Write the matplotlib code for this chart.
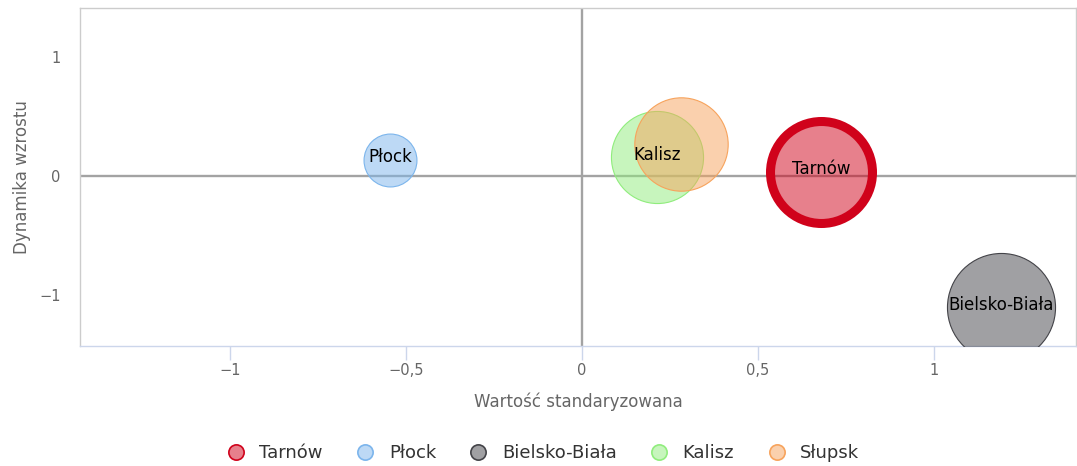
import matplotlib.pyplot as plt
from matplotlib.lines import Line2D

# dane
miasta = ["Tarnów", "Płock", "Bielsko-Biała", "Kalisz", "Słupsk"]
wartosc_std = [0.68, -0.545, 1.19, 0.212, 0.281]
dynamika = [0.033, 0.134, -1.10, 0.155, 0.268]
wielkosc = [26.0, 7.0, 29.2, 21.2, 21.8]
kolory = ["#d0021b", "#7cb5ec", "#434348", "#90ed7d", "#f7a35c"]
etykiety = ["Tarnów", "Płock", "Bielsko-Biała", "Kalisz", None]

x_ticks = [-1, -0.5, 0, 0.5, 1]
x_tick_labels = ["\u22121", "\u22120,5", "0", "0,5", "1"]
y_ticks = [-1, 0, 1]
y_tick_labels = ["\u22121", "0", "1"]

plt.rcParams['font.family'] = ['DejaVu Sans']

fig = plt.figure(figsize=(10.77, 4.66), dpi=100)
ax = fig.add_axes([80 / 1077, 120 / 466, 996 / 1077, 338 / 466])
ax.set_xlim(-1.426, 1.403)
ax.set_ylim(-1.423, 1.406)

# osie przez zero
ax.axhline(0, color="#a3a3a3", linewidth=1.7, zorder=1)
ax.axvline(0, color="#a3a3a3", linewidth=1.7, zorder=1)

for i, miasto in enumerate(miasta):
    promien_px = 10 * wielkosc[i] ** 0.5
    s = (2 * promien_px * 0.72) ** 2
    lw = 6.5 if miasto == "Tarnów" else 0.8
    ax.scatter(wartosc_std[i], dynamika[i], s=s, facecolor=kolory[i] + "80",
               edgecolor=kolory[i], linewidth=lw, zorder=2 + i)
    if etykiety[i]:
        ax.annotate(etykiety[i], (wartosc_std[i], dynamika[i]), xytext=(0, 2),
                    textcoords="offset points", ha="center", va="center",
                    fontsize=12, color="black", zorder=10)

ax.set_xticks(x_ticks)
ax.set_xticklabels(x_tick_labels)
ax.set_yticks(y_ticks)
ax.set_yticklabels(y_tick_labels)
ax.tick_params(axis="x", colors="#666666", labelsize=10.5, length=10, width=1, pad=2)
ax.tick_params(axis="x", color="#ccd6eb")
ax.tick_params(axis="y", colors="#666666", labelsize=10.5, length=0, pad=14)

for side in ["left", "top", "right"]:
    ax.spines[side].set_color("#cccccc")
    ax.spines[side].set_linewidth(1)
ax.spines["bottom"].set_color("#ccd6eb")
ax.spines["bottom"].set_linewidth(1)

ax.set_xlabel("Wartość standaryzowana", fontsize=12, color="#666666", labelpad=11)
ax.set_ylabel("Dynamika wzrostu", fontsize=12, color="#666666", labelpad=6)

uchwyty = [Line2D([], [], marker="o", linestyle="", markersize=11,
                  markerfacecolor=kolory[i] + "80", markeredgecolor=kolory[i],
                  markeredgewidth=1.2, label=miasta[i]) for i in range(len(miasta))]
fig.legend(handles=uchwyty, loc="center", bbox_to_anchor=(0.5, 1 - 453 / 466), ncol=5,
           frameon=False, fontsize=13, handletextpad=0.3, columnspacing=1.35,
           labelcolor="#333333")

fig.savefig("out.png", dpi=100)
